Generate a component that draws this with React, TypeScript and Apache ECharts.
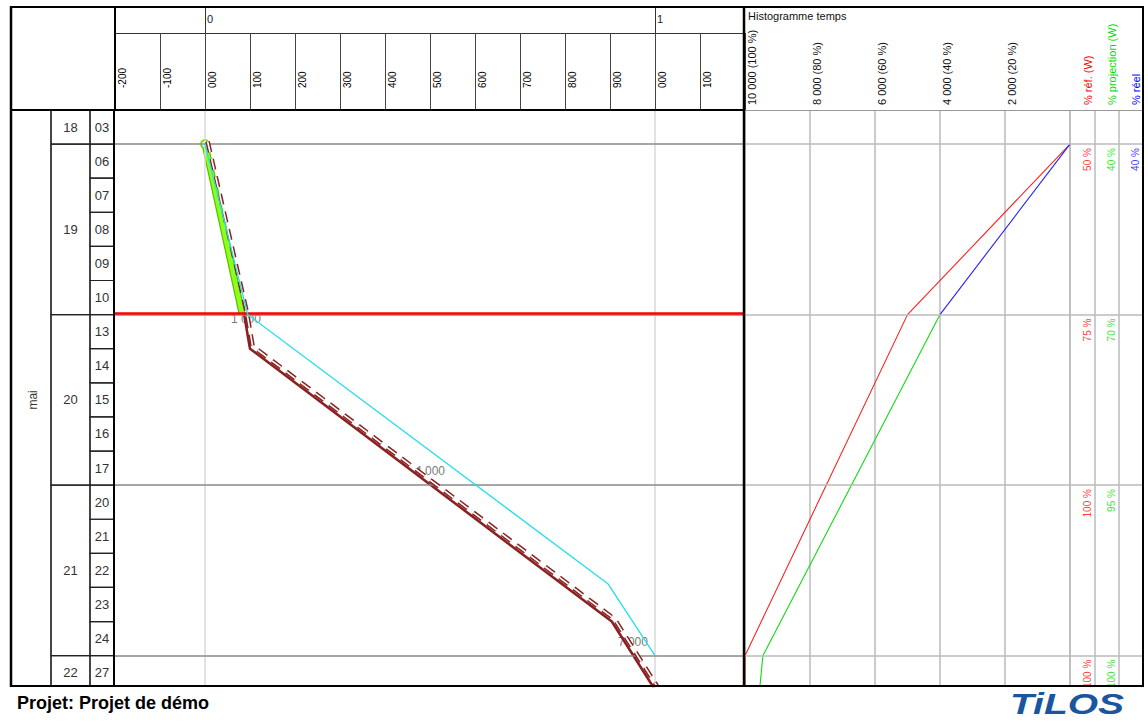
import React, { useEffect, useRef } from 'react';
import * as echarts from 'echarts';

// ---------------- data ----------------
const MONTH = 'mai';
const weekNumbers = ['18', '19', '20', '21', '22'];
const weekDays = [['03'], ['06', '07', '08', '09', '10'], ['13', '14', '15', '16', '17'], ['20', '21', '22', '23', '24'], ['27']];

// distance axis (m) – header tick labels
const distTickLabels = ['-200', '-100', '000', '100', '200', '300', '400', '500', '600', '700', '800', '900', '000', '100'];
const kmTickValues = [0, 1000];
const kmTickLabels = ['0', '1'];

// progress lines : x = distance, y = working-day row index (0 = top of first row)
const plannedX = [0, 87, 100, 904, 1000];
const plannedY = [1, 6, 7, 15, 17];
const actualX = [0, 82];
const actualY = [1, 5.95];
const projectedX = [0, 95, 896, 1000];
const projectedY = [1, 6, 13.9, 16];
const todayRow = 5.97;

const qtyLabels = ['1 000', '4 000', '7 000'];
const qtyX = [91, 500, 951];
const qtyY = [6.12, 10.59, 15.59];

// histogram (time)
const histTickValues = [10000, 8000, 6000, 4000, 2000];
const histTickLabels = ['10 000 (100 %)', '8 000 (80 %)', '6 000 (60 %)', '4 000 (40 %)', '2 000 (20 %)'];
const refHistX = [0, 5000, 10000, 10000];
const refHistY = [1, 6, 16, 17];
const realHistX = [0, 4000];
const realHistY = [1, 6];
const projHistX = [4000, 9450, 9550];
const projHistY = [6, 16, 17];

const pctColumns = ['% réf. (W)', '% projection (W)', '% réel'];
const pctColors = ['#ff0000', '#00dd00', '#0000ff'];
const pctRef = ['50 %', '75 %', '100 %', '100 %'];
const pctProj = ['40 %', '70 %', '95 %', '100 %'];
const pctReal = ['40 %', '', '', ''];

// ---------------- layout ----------------
const FONT = '"Liberation Sans", Arial, sans-serif';
const BODY_TOP = 110;
const BODY_H = 576;
const Y_MAX = 16.89; // visible rows (last row is cut by the frame)

const zip = (xs: number[], ys: number[]) => xs.map((x, i) => [x, ys[i]]);

function buildOption() {
  const weekStart: number[] = [];
  let acc = 0;
  weekDays.forEach((d) => {
    weekStart.push(acc);
    acc += d.length;
  });
  const days = weekDays.flat();
  const weekCells = weekDays.map((d, i) => [weekStart[i], weekStart[i] + d.length]);
  const dayCells = days.map((_, i) => [i, i + 1]);
  const monthCells = [[0, days.length]];
  const weekLines = weekStart.slice(1);

  const cellRender = (labels: string[], font: string, rotate: boolean) => (params: any, api: any) => {
    const from = api.value(0);
    const to = api.value(1);
    const p0 = api.coord([0, from]);
    const p1 = api.coord([1, Math.min(to, Y_MAX)]);
    const mid = api.coord([0.5, (from + to) / 2]);
    return {
      type: 'group',
      children: [
        {
          type: 'rect',
          shape: { x: p0[0], y: p0[1], width: p1[0] - p0[0], height: p1[1] - p0[1] },
          style: { fill: 'transparent', stroke: '#222', lineWidth: 1.2 },
        },
        {
          type: 'text',
          x: mid[0] + (rotate ? 2 : 0),
          y: mid[1],
          rotation: rotate ? Math.PI / 2 : 0,
          style: { text: labels[params.dataIndex], fill: '#333', font, align: 'center', verticalAlign: 'middle' },
        },
      ],
    };
  };

  const gridIds = [
    { left: 115, width: 630 }, // 0 chart
    { left: 745, width: 325 }, // 1 histogram
    { left: 1070, width: 73 }, // 2 pct columns
    { left: 11, width: 40 }, // 3 month
    { left: 51, width: 39 }, // 4 week
    { left: 90, width: 24 }, // 5 day
  ];

  const grid = gridIds.map((g) => ({ left: g.left, width: g.width, top: BODY_TOP, height: BODY_H, outerBoundsMode: 'none' }));

  const yAxis = gridIds.map((_, i) => ({
    type: 'value',
    gridIndex: i,
    min: 0,
    max: Y_MAX,
    inverse: true,
    show: false,
  }));

  const hiddenX = (gi: number) => ({ type: 'value', gridIndex: gi, min: 0, max: 1, show: false });

  const xAxis: any[] = [
    // 0: distance, header row 2
    {
      type: 'value',
      gridIndex: 0,
      min: -200,
      max: 1200,
      interval: 100,
      position: 'top',
      axisLine: { show: true, lineStyle: { color: '#000', width: 2 } },
      axisTick: { show: true, length: 77, lineStyle: { color: '#444', width: 1 } },
      axisLabel: {
        rotate: 90,
        margin: 22,
        align: 'left',
        verticalAlign: 'top',
        padding: [2, 0, 0, 0],
        fontSize: 10,
        fontFamily: FONT,
        color: '#000',
        showMaxLabel: true,
        formatter: (_v: number, i: number) => distTickLabels[i] ?? '',
      },
      splitLine: { show: false },
    },
    // 1: km header row 1
    {
      type: 'value',
      gridIndex: 0,
      min: -200,
      max: 1200,
      position: 'top',
      offset: 77,
      axisLine: { show: true, lineStyle: { color: '#333', width: 1 } },
      axisTick: { show: true, customValues: kmTickValues, length: 26, lineStyle: { color: '#333', width: 1 } },
      axisLabel: {
        customValues: kmTickValues,
        align: 'left',
        verticalAlign: 'middle',
        margin: 14,
        padding: [0, 0, 0, 2],
        fontSize: 11,
        fontFamily: FONT,
        color: '#222',
        formatter: (v: number) => kmTickLabels[kmTickValues.indexOf(v)] ?? '',
      },
      splitLine: { show: false },
    },
    // 2: histogram
    {
      type: 'value',
      gridIndex: 1,
      min: 0,
      max: 10000,
      interval: 2000,
      inverse: true,
      position: 'top',
      axisLine: { show: true, lineStyle: { color: '#999', width: 1 } },
      axisTick: { show: false },
      axisLabel: {
        rotate: 90,
        margin: 5,
        align: 'left',
        verticalAlign: 'top',
        padding: [1, 0, 0, 0],
        fontSize: 11,
        fontFamily: FONT,
        color: '#111',
        formatter: (v: number) => {
          const k = histTickValues.indexOf(v);
          return k >= 0 ? histTickLabels[k] : '';
        },
      },
      splitLine: { show: true, lineStyle: { color: '#bbb', width: 1.5 } },
    },
    // 3: pct columns
    {
      type: 'category',
      gridIndex: 2,
      data: pctColumns,
      position: 'top',
      boundaryGap: true,
      axisLine: { show: true, lineStyle: { color: '#999', width: 1 } },
      axisTick: { show: false },
      axisLabel: {
        rotate: 90,
        interval: 0,
        margin: 5,
        align: 'left',
        verticalAlign: 'top',
        fontSize: 11,
        fontFamily: FONT,
        color: (v: string) => pctColors[pctColumns.indexOf(v)] ?? '#000',
      },
      splitLine: { show: true, interval: 0, lineStyle: { color: '#bbb', width: 1.5 } },
    },
    hiddenX(3),
    hiddenX(4),
    hiddenX(5),
  ];

  const pctData: any[] = [];
  [pctRef, pctProj, pctReal].forEach((arr, ci) => {
    arr.forEach((t, wi) => {
      if (t) pctData.push({ name: t, value: [ci, weekStart[wi + 1]], label: { color: pctColors[ci] } });
    });
  });

  const planned = zip(plannedX, plannedY);
  const dash = [11, 7];

  const series: any[] = [
    // grid lines + quantity labels (chart area)
    {
      type: 'scatter',
      xAxisIndex: 0,
      yAxisIndex: 0,
      z: 1,
      symbolSize: 0,
      data: qtyLabels.map((t, i) => ({ name: t, value: [qtyX[i], qtyY[i]] })),
      label: { show: true, position: 'inside', formatter: '{b}', color: '#555', fontSize: 12, fontFamily: FONT },
      markLine: {
        silent: true,
        symbol: 'none',
        label: { show: false },
        animation: false,
        data: [
          ...kmTickValues.map((v) => ({ xAxis: v, lineStyle: { color: '#d8d8d8', width: 1.5, type: 'solid' } })),
          ...weekLines.map((r) => ({ yAxis: r, lineStyle: { color: '#888', width: 1.5, type: 'solid' } })),
          { yAxis: todayRow, lineStyle: { color: '#ff0000', width: 2.5, type: 'solid' } },
        ],
      },
    },
    // planned (brown solid)
    {
      type: 'line',
      xAxisIndex: 0,
      yAxisIndex: 0,
      z: 2,
      symbol: 'none',
      data: planned,
      lineStyle: { color: '#8b2222', width: 2.6 },
    },
    // actual (green)
    {
      type: 'line',
      xAxisIndex: 0,
      yAxisIndex: 0,
      z: 3,
      symbol: 'none',
      data: zip(actualX, actualY),
      lineStyle: { color: '#5cc000', width: 7 },
    },
    {
      type: 'line',
      xAxisIndex: 0,
      yAxisIndex: 0,
      z: 4,
      showSymbol: true,
      symbol: 'none',
      data: zip(actualX, actualY).map((p, i) =>
        i === 0
          ? { value: p, symbol: 'circle', symbolSize: 8, itemStyle: { color: '#fff', borderColor: '#70e000', borderWidth: 2 } }
          : { value: p }
      ),
      lineStyle: { color: '#8cff1a', width: 4.5 },
    },
    // planned (brown outlined dashes, drawn parallel to the solid line)
    {
      type: 'custom',
      xAxisIndex: 0,
      yAxisIndex: 0,
      z: 5,
      clip: true,
      data: [planned[0]],
      renderItem: (_params: any, api: any) => {
        const pts = planned.map((p) => {
          const c = api.coord(p);
          return [c[0] + 2.6, c[1] - 2.6];
        });
        return {
          type: 'group',
          children: [
            { type: 'polyline', shape: { points: pts }, style: { stroke: '#8b2222', lineWidth: 4.6, lineDash: dash, fill: 'none' } },
            { type: 'polyline', shape: { points: pts }, style: { stroke: '#ffffff', lineWidth: 1.6, lineDash: dash, fill: 'none' } },
          ],
        };
      },
    },
    // projected (cyan)
    {
      type: 'line',
      xAxisIndex: 0,
      yAxisIndex: 0,
      z: 7,
      symbol: 'none',
      data: zip(projectedX, projectedY),
      lineStyle: { color: '#22e0ea', width: 1.3 },
    },
    // histogram lines
    {
      type: 'line',
      xAxisIndex: 2,
      yAxisIndex: 1,
      z: 3,
      symbol: 'none',
      data: zip(refHistX, refHistY),
      lineStyle: { color: '#ff2020', width: 1.1 },
      markLine: {
        silent: true,
        symbol: 'none',
        label: { show: false },
        animation: false,
        data: weekLines.map((r) => ({ yAxis: r, lineStyle: { color: '#bbb', width: 1.5, type: 'solid' } })),
      },
    },
    {
      type: 'line',
      xAxisIndex: 2,
      yAxisIndex: 1,
      z: 4,
      symbol: 'none',
      data: zip(realHistX, realHistY),
      lineStyle: { color: '#2020ff', width: 1.1 },
    },
    {
      type: 'line',
      xAxisIndex: 2,
      yAxisIndex: 1,
      z: 4,
      symbol: 'none',
      data: zip(projHistX, projHistY),
      lineStyle: { color: '#10dd10', width: 1.1 },
    },
    // pct labels
    {
      type: 'scatter',
      xAxisIndex: 3,
      yAxisIndex: 2,
      symbolSize: 0,
      data: pctData,
      label: {
        show: true,
        position: 'inside',
        formatter: '{b}',
        rotate: 90,
        align: 'right',
        verticalAlign: 'top',
        padding: [0, 4, 0, 0],
        fontSize: 10,
        fontFamily: FONT,
      },
      markLine: {
        silent: true,
        symbol: 'none',
        label: { show: false },
        animation: false,
        data: weekLines.map((r) => ({ yAxis: r, lineStyle: { color: '#bbb', width: 1.5, type: 'solid' } })),
      },
    },
    // left table
    {
      type: 'custom',
      xAxisIndex: 4,
      yAxisIndex: 3,
      data: monthCells,
      renderItem: cellRender([MONTH], `12px ${FONT}`, true),
    },
    {
      type: 'custom',
      xAxisIndex: 5,
      yAxisIndex: 4,
      data: weekCells,
      renderItem: cellRender(weekNumbers, `13px ${FONT}`, false),
    },
    {
      type: 'custom',
      xAxisIndex: 6,
      yAxisIndex: 5,
      data: dayCells,
      renderItem: cellRender(days, `13px ${FONT}`, false),
    },
  ];

  const bottom = BODY_TOP + BODY_H;
  const L = (x1: number, y1: number, x2: number, y2: number, w: number, c = '#000') => ({
    type: 'line',
    z: 100,
    shape: { x1, y1, x2, y2 },
    style: { stroke: c, lineWidth: w },
  });

  const graphic: any[] = [
    L(11, 7, 1143, 7, 2),
    L(11, 6, 11, bottom + 1, 2.5),
    L(1143, 6, 1143, bottom + 1, 2),
    L(10, bottom, 1144, bottom, 2),
    L(744, 6, 744, bottom + 1, 2.5),
    L(115, 6, 115, BODY_TOP, 2),
    L(114, BODY_TOP, 114, bottom, 2),
    L(10, BODY_TOP, 744, BODY_TOP, 2),
    {
      type: 'text',
      z: 100,
      x: 748,
      y: 16,
      style: { text: 'Histogramme temps', font: `11px ${FONT}`, fill: '#111', verticalAlign: 'middle' },
    },
    {
      type: 'text',
      z: 100,
      x: 17,
      y: 703,
      style: { text: 'Projet: Projet de démo', font: `bold 18px ${FONT}`, fill: '#000', verticalAlign: 'middle' },
    },
    {
      type: 'text',
      z: 100,
      x: 1010,
      y: 704,
      scaleX: 1.3,
      style: { text: 'TiLOS', font: `italic bold 30px ${FONT}`, fill: '#1a56a0', verticalAlign: 'middle' },
    },
  ];

  return {
    animation: false,
    backgroundColor: '#fff',
    grid,
    xAxis,
    yAxis,
    series,
    graphic,
  };
}

export default function App() {
  const ref = useRef<HTMLDivElement>(null);
  useEffect(() => {
    document.body.style.margin = '0';
    const chart = echarts.init(ref.current!, null, { renderer: 'svg' });
    chart.setOption(buildOption() as any);
    return () => chart.dispose();
  }, []);
  return <div ref={ref} style={{ width: 1148, height: 722 }} />;
}
